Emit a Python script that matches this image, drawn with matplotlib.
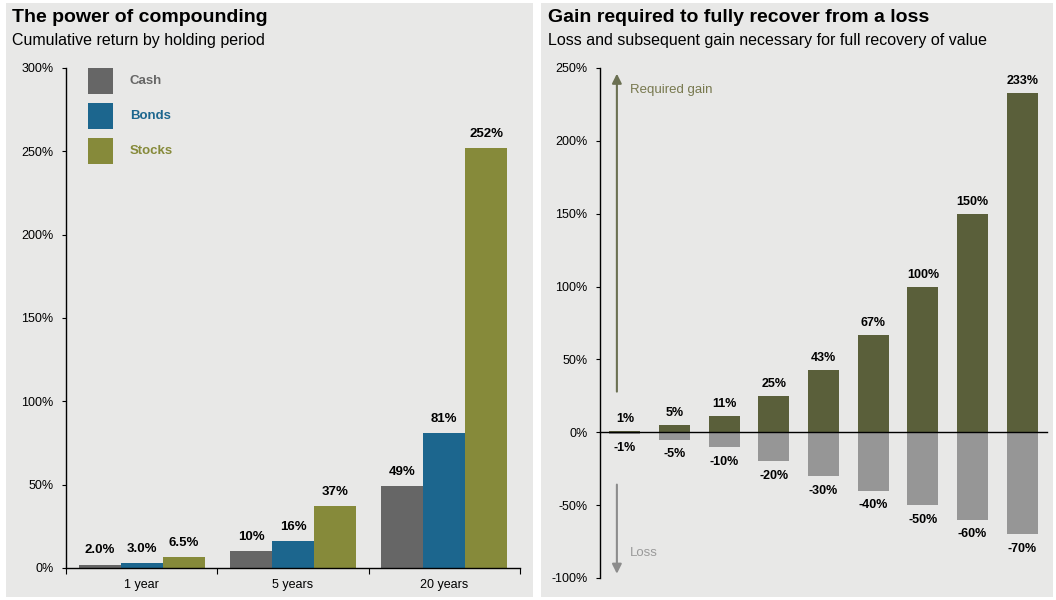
import matplotlib.pyplot as plt
import numpy as np
from matplotlib.patches import Rectangle

plt.rcParams['font.family'] = ['Liberation Sans', 'DejaVu Sans']

# left panel data
periods = ['1 year', '5 years', '20 years']
cash = [2.0, 10, 49]
bonds = [3.0, 16, 81]
stocks = [6.5, 37, 252]
left_labels = [['2.0%', '10%', '49%'], ['3.0%', '16%', '81%'], ['6.5%', '37%', '252%']]

# right panel data
losses = [-1, -5, -10, -20, -30, -40, -50, -60, -70]
gains = [1, 5, 11, 25, 43, 67, 100, 150, 233]

c_cash = '#666666'
c_bonds = '#1c668e'
c_stocks = '#868a3a'
c_gain = '#5a5f3a'
c_loss = '#969696'
bg = '#e8e8e7'

W, H = 1056, 600
fig = plt.figure(figsize=(W / 100, H / 100), dpi=100, facecolor='white')

def px(x0, y0, x1, y1):
    # pixel box (from top-left) -> figure fraction rect
    return [x0 / W, 1 - y1 / H, (x1 - x0) / W, (y1 - y0) / H]

for x0, x1 in [(6, 533), (541, 1053)]:
    r = px(x0, 3, x1, 597)
    fig.patches.append(Rectangle((r[0], r[1]), r[2], r[3], transform=fig.transFigure,
                                 facecolor=bg, edgecolor='none', zorder=-5))

# titles
fig.text(12 / W, 1 - 18 / H, 'The power of compounding', fontsize=14, fontweight='bold', va='center')
fig.text(12 / W, 1 - 40 / H, 'Cumulative return by holding period', fontsize=11.5, va='center')
fig.text(548 / W, 1 - 18 / H, 'Gain required to fully recover from a loss', fontsize=14, fontweight='bold', va='center')
fig.text(548 / W, 1 - 40 / H, 'Loss and subsequent gain necessary for full recovery of value', fontsize=11.5, va='center')

# ---- left chart ----
ax1 = fig.add_axes(px(66, 68, 520, 568))
ax1.set_facecolor('none')
x = np.arange(len(periods))
w = 0.277
series = [(cash, c_cash, 'Cash'), (bonds, c_bonds, 'Bonds'), (stocks, c_stocks, 'Stocks')]
for i, (vals, col, name) in enumerate(series):
    pos = x + (i - 1) * w
    ax1.bar(pos, vals, width=w, color=col, edgecolor='none')
    for p, v, lab in zip(pos, vals, left_labels[i]):
        ax1.text(p, v + 5, lab, ha='center', va='bottom', fontsize=9.5, fontweight='bold')
ax1.set_xlim(-0.5, 2.5)
ax1.set_ylim(0, 300)
ax1.set_yticks(np.arange(0, 301, 50))
ax1.set_yticklabels([f'{v}%' for v in range(0, 301, 50)], fontsize=9)
ax1.set_xticks(x)
ax1.set_xticklabels(periods, fontsize=9)
ax1.set_xticks([-0.5, 0.5, 1.5, 2.5], minor=True)
ax1.tick_params(axis='x', which='major', length=0, pad=8)
ax1.tick_params(axis='x', which='minor', length=4, width=0.8, direction='out')
ax1.tick_params(axis='y', length=3, width=0.8, pad=6)
for s in ['top', 'right']:
    ax1.spines[s].set_visible(False)
ax1.spines['left'].set_linewidth(1)
ax1.spines['bottom'].set_linewidth(1)

# legend drawn as squares + coloured text
for k, (vals, col, name) in enumerate(series):
    y0 = 68 + k * 35
    r = px(88, y0, 113, y0 + 26)
    fig.patches.append(Rectangle((r[0], r[1]), r[2], r[3], transform=fig.transFigure,
                                 facecolor=col, edgecolor='none', zorder=2))
    fig.text(130 / W, 1 - (y0 + 13) / H, name, color=col, fontsize=9.5, fontweight='bold', va='center')

# ---- right chart ----
ax2 = fig.add_axes(px(600, 68, 1047, 578))
ax2.set_facecolor('none')
xi = np.arange(len(gains))
bw = 0.63
ax2.bar(xi, gains, width=bw, color=c_gain, edgecolor='none')
ax2.bar(xi, losses, width=bw, color=c_loss, edgecolor='none')
for p, g, l in zip(xi, gains, losses):
    ax2.text(p, g + 4, f'{g}%', ha='center', va='bottom', fontsize=9, fontweight='bold')
    ax2.text(p, l - 6, f'{l}%', ha='center', va='top', fontsize=9, fontweight='bold')
ax2.set_xlim(-0.5, 8.5)
ax2.set_ylim(-100, 250)
ax2.set_yticks(np.arange(-100, 251, 50))
ax2.set_yticklabels([f'{v}%' for v in range(-100, 251, 50)], fontsize=9)
ax2.set_xticks([])
ax2.tick_params(axis='y', length=3, width=0.8, pad=6)
for s in ['top', 'right']:
    ax2.spines[s].set_visible(False)
ax2.spines['bottom'].set_position(('data', 0))
ax2.spines['bottom'].set_linewidth(1)
ax2.spines['left'].set_linewidth(1)

ax2.annotate('', xy=(-0.16, 248), xytext=(-0.16, 26),
             arrowprops=dict(arrowstyle='-|>', color='#6b7052', lw=1.5, mutation_scale=14))
ax2.annotate('', xy=(-0.16, -99), xytext=(-0.16, -34),
             arrowprops=dict(arrowstyle='-|>', color='#8c8c8c', lw=1.5, mutation_scale=14))
ax2.text(0.1, 235, 'Required gain', color='#77784e', fontsize=9.5, va='center')
ax2.text(0.1, -83, 'Loss', color='#9a9a9a', fontsize=9.5, va='center')

fig.savefig('out.png', dpi=100, facecolor='white')
